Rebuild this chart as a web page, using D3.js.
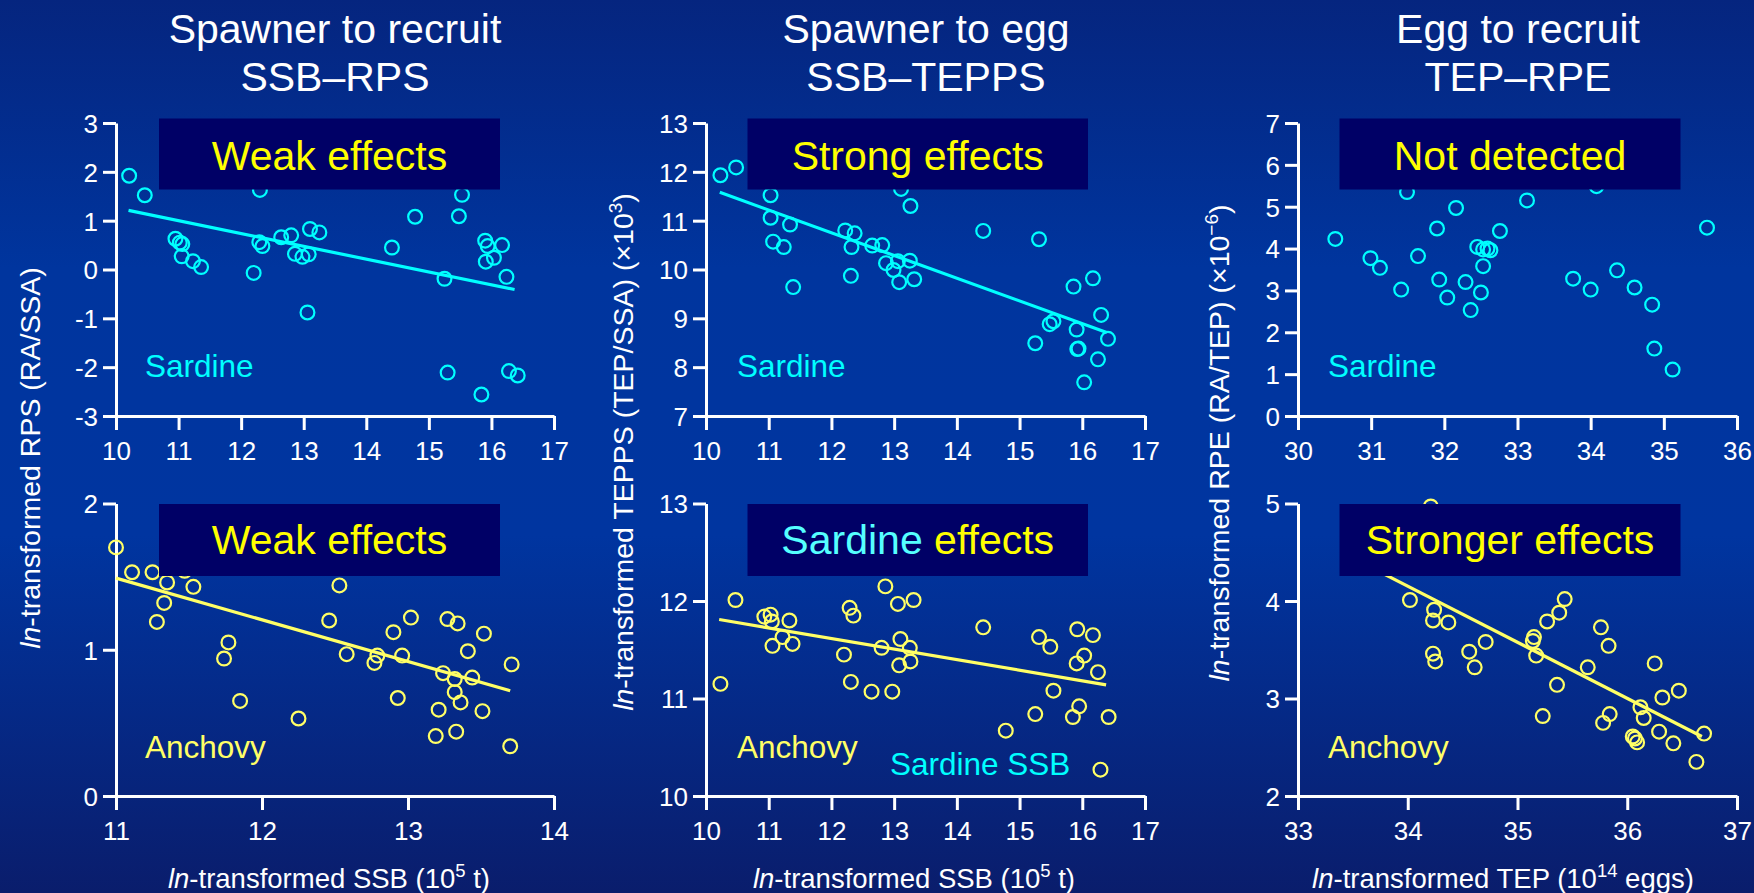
<!DOCTYPE html>
<html><head><meta charset="utf-8">
<script src="https://cdn.jsdelivr.net/npm/d3@7"></script>
<style>html,body{margin:0;padding:0;background:#0033a0;}svg{display:block;}</style>
</head><body>
<svg id="c" width="1754" height="893"></svg>
<script>
// ---------- DATA ----------
const titlesTop = ["Spawner to recruit", "Spawner to egg", "Egg to recruit"];
const titlesBottom = ["SSB\u2013RPS", "SSB\u2013TEPPS", "TEP\u2013RPE"];

const xTicksSSB = [10, 11, 12, 13, 14, 15, 16, 17];
const xTicksSSBAnchovy = [11, 12, 13, 14];
const xTicksTEPSardine = [30, 31, 32, 33, 34, 35, 36];
const xTicksTEPAnchovy = [33, 34, 35, 36, 37];
const yTicksRPSSardine = [-3, -2, -1, 0, 1, 2, 3];
const yTicksRPSAnchovy = [0, 1, 2];
const yTicksTEPPSSardine = [7, 8, 9, 10, 11, 12, 13];
const yTicksTEPPSAnchovy = [10, 11, 12, 13];
const yTicksRPESardine = [0, 1, 2, 3, 4, 5, 6, 7];
const yTicksRPEAnchovy = [2, 3, 4, 5];

const ssbRpsSardine = [[10.21,1.92],[10.46,1.52],[10.95,0.63],[11.02,0.55],[11.06,0.52],[11.05,0.27],[11.23,0.17],[11.36,0.05],
  [12.30,1.63],[12.20,-0.07],[12.29,0.56],[12.34,0.48],[12.64,0.66],[12.80,0.70],[12.86,0.32],[12.98,0.26],[13.08,0.31],
  [13.10,0.83],[13.25,0.76],[13.06,-0.88],[14.41,0.45],[14.78,1.08],[15.53,1.53],[15.48,1.09],[15.25,-0.19],[15.30,-2.11],
  [15.90,0.59],[15.94,0.48],[15.91,0.16],[16.04,0.24],[16.17,0.50],[16.24,-0.15],[15.84,-2.56],[16.28,-2.08],[16.42,-2.17]];
const ssbRpsAnchovy = [[11.00,1.70],[11.11,1.53],[11.25,1.53],[11.47,1.54],[11.35,1.46],[11.33,1.32],[11.53,1.43],[11.28,1.19],
  [11.77,1.05],[11.74,0.94],[11.85,0.65],[12.25,0.53],[12.53,1.44],[12.46,1.20],[12.58,0.97],[12.79,0.96],[12.77,0.91],
  [12.96,0.96],[12.90,1.12],[13.02,1.22],[12.93,0.67],[13.27,1.21],[13.34,1.18],[13.52,1.11],[13.41,0.99],[13.24,0.84],
  [13.32,0.80],[13.44,0.81],[13.32,0.71],[13.36,0.64],[13.21,0.59],[13.51,0.58],[13.19,0.41],[13.33,0.44],[13.71,0.90],[13.70,0.34]];
const ssbTeppsSardine = [[10.23,11.93],[10.48,12.09],[11.03,11.52],[11.03,11.06],[11.34,10.92],[11.07,10.57],[11.24,10.46],[11.39,9.64],
  [12.22,10.80],[12.37,10.74],[12.32,10.46],[12.31,9.87],[12.65,10.49],[12.81,10.50],[12.87,10.13],[12.99,9.99],[13.08,9.74],
  [13.06,10.17],[13.25,10.18],[13.32,9.80],[13.11,11.65],[13.26,11.30],[14.42,10.79],[15.31,10.62],[15.25,8.49],[15.48,8.88],
  [15.54,8.94],[15.86,9.65],[16.17,9.82],[15.91,8.77],[15.94,8.38],[15.92,8.37],[16.30,9.07],[16.41,8.58],[16.25,8.16],[16.03,7.69]];
const ssbTeppsAnchovy = [[10.23,11.15],[10.47,12.01],[10.93,11.84],[11.03,11.86],[11.05,11.79],[11.33,11.80],[11.22,11.63],[11.06,11.54],
  [11.38,11.56],[12.29,11.93],[12.35,11.85],[12.20,11.45],[12.31,11.17],[12.64,11.07],[12.86,12.15],[13.06,11.97],[13.31,12.01],
  [12.80,11.52],[13.10,11.61],[13.25,11.52],[13.26,11.38],[13.08,11.34],[12.97,11.07],[14.42,11.73],[14.78,10.67],[15.31,11.63],
  [15.49,11.53],[15.54,11.08],[15.25,10.84],[15.92,11.71],[16.17,11.65],[16.03,11.44],[15.91,11.36],[16.25,11.27],[15.95,10.92],
  [15.85,10.81],[16.42,10.81],[16.29,10.27]];
const tepRpeSardine = [[30.51,4.23],[30.99,3.77],[31.12,3.54],[31.41,3.02],[31.49,5.35],[31.64,3.82],[31.90,4.48],[31.93,3.26],
  [32.04,2.83],[32.16,4.97],[32.29,3.20],[32.36,2.53],[32.45,4.04],[32.50,2.95],[32.53,3.58],[32.53,3.98],[32.59,4.00],[32.63,3.96],
  [32.76,4.42],[33.13,5.15],[34.08,5.49],[33.76,3.28],[34.00,3.02],[34.36,3.48],[34.60,3.07],[34.84,2.66],[34.87,1.61],[35.12,1.11],[35.59,4.50]];
const tepRpeAnchovy = [[34.21,4.97],[34.02,4.01],[34.24,3.91],[34.23,3.80],[34.37,3.78],[34.23,3.46],[34.25,3.38],[34.56,3.48],
  [34.61,3.32],[34.71,3.58],[35.15,3.63],[35.14,3.59],[35.17,3.44],[35.27,3.79],[35.38,3.88],[35.43,4.02],[35.23,2.82],[35.36,3.14],
  [35.64,3.32],[35.76,3.73],[35.83,3.54],[35.84,2.84],[35.78,2.75],[36.05,2.61],[36.07,2.59],[36.09,2.55],[36.12,2.91],[36.15,2.80],
  [36.25,3.36],[36.32,3.01],[36.29,2.66],[36.47,3.08],[36.42,2.54],[36.63,2.35],[36.70,2.64]];

const fitSsbRpsSardine = [[10.20,1.21],[16.37,-0.41]];
const fitSsbRpsAnchovy = [[11.00,1.49],[13.70,0.72]];
const fitSsbTeppsSardine = [[10.22,11.58],[16.39,8.71]];
const fitSsbTeppsAnchovy = [[10.21,11.81],[16.38,11.14]];
const fitTepRpeAnchovy = [[33.50,4.44],[36.68,2.61]];

const bannerTop = ["Weak effects", "Strong effects", "Not detected"];
const bannerBottom = ["Weak effects", "Sardine effects", "Stronger effects"];

// ---------- STYLE / LAYOUT ----------
const CYAN = "#00ffff", CYAN_LT = "#55ffff", YEL = "#ffff00", YEL_PALE = "#ffff66";
const FONT = "'Liberation Sans', Arial, sans-serif";
const cols = [{x0:116, x1:554, tc:335, sp:145, xl:329},
              {x0:706, x1:1145, tc:926, sp:737, xl:914},
              {x0:1298, x1:1737, tc:1518, sp:1328, xl:1503}];
const rows = [{y0:123, y1:416, by0:118.5, by1:189.5, bt:170, lab:377},
              {y0:503.5, y1:796, by0:504, by1:576, bt:554, lab:758}];
const bannerX = [[159,500],[747.5,1088],[1339.5,1680.5]];

const svg = d3.select("#c");
const defs = svg.append("defs");
const grad = defs.append("linearGradient").attr("id","bg").attr("x1",0).attr("y1",0).attr("x2",0).attr("y2",1);
[[0,"#05257f"],[0.3,"#00359e"],[0.6,"#0035a0"],[1,"#0a1d6c"]].forEach(([o,c]) =>
  grad.append("stop").attr("offset",o).attr("stop-color",c));
svg.append("rect").attr("width",1754).attr("height",893).attr("fill","url(#bg)");

cols.forEach((c,i) => {
  svg.append("text").attr("x",c.tc).attr("y",43).attr("text-anchor","middle")
    .attr("fill","#fff").attr("font-family",FONT).attr("font-size",41).text(titlesTop[i]);
  svg.append("text").attr("x",c.tc).attr("y",91).attr("text-anchor","middle")
    .attr("fill","#fff").attr("font-family",FONT).attr("font-size",41).text(titlesBottom[i]);
});

const panels = [
  {c:0,r:0, xt:xTicksSSB, yt:yTicksRPSSardine, pts:ssbRpsSardine, col:CYAN, fit:fitSsbRpsSardine},
  {c:0,r:1, xt:xTicksSSBAnchovy, yt:yTicksRPSAnchovy, pts:ssbRpsAnchovy, col:YEL_PALE, fit:fitSsbRpsAnchovy},
  {c:1,r:0, xt:xTicksSSB, yt:yTicksTEPPSSardine, pts:ssbTeppsSardine, col:CYAN, fit:fitSsbTeppsSardine},
  {c:1,r:1, xt:xTicksSSB, yt:yTicksTEPPSAnchovy, pts:ssbTeppsAnchovy, col:YEL_PALE, fit:fitSsbTeppsAnchovy},
  {c:2,r:0, xt:xTicksTEPSardine, yt:yTicksRPESardine, pts:tepRpeSardine, col:CYAN, fit:null},
  {c:2,r:1, xt:xTicksTEPAnchovy, yt:yTicksRPEAnchovy, pts:tepRpeAnchovy, col:YEL_PALE, fit:fitTepRpeAnchovy},
];

panels.forEach(p => {
  const C = cols[p.c], R = rows[p.r];
  const x = d3.scaleLinear().domain(d3.extent(p.xt)).range([C.x0, C.x1]);
  const y = d3.scaleLinear().domain(d3.extent(p.yt)).range([R.y1, R.y0]);
  const g = svg.append("g");

  const xa = g.append("g").attr("transform",`translate(0,${R.y1})`)
    .call(d3.axisBottom(x).tickValues(p.xt).tickFormat(d=>String(d)).tickSize(14).tickSizeOuter(0));
  const ya = g.append("g").attr("transform",`translate(${C.x0},0)`)
    .call(d3.axisLeft(y).tickValues(p.yt).tickFormat(d=>String(d)).tickSize(13).tickSizeOuter(0).tickPadding(5));
  [xa, ya].forEach(a => {
    a.select(".domain").attr("stroke","#fff").attr("stroke-width",3);
    a.selectAll(".tick line").attr("stroke","#fff").attr("stroke-width",3);
    a.selectAll(".tick text").attr("fill","#fff").attr("font-family",FONT).attr("font-size",26);
  });
  xa.selectAll(".tick text").attr("dy",null).attr("y",44);
  ya.selectAll(".tick text").attr("dy","0.36em");

  if (p.fit) {
    g.append("line").attr("x1",x(p.fit[0][0])).attr("y1",y(p.fit[0][1]))
      .attr("x2",x(p.fit[1][0])).attr("y2",y(p.fit[1][1]))
      .attr("stroke", p.col).attr("stroke-width",3.2);
  }
  g.selectAll("circle").data(p.pts).join("circle")
    .attr("cx",d=>x(d[0])).attr("cy",d=>y(d[1])).attr("r",6.9)
    .attr("fill","none").attr("stroke",p.col).attr("stroke-width",2.2);

  const bx = bannerX[p.c];
  g.append("rect").attr("x",bx[0]).attr("y",R.by0).attr("width",bx[1]-bx[0]).attr("height",R.by1-R.by0).attr("fill","#000066");
  const bt = g.append("text").attr("x",(bx[0]+bx[1])/2).attr("y",R.bt).attr("text-anchor","middle")
    .attr("font-family",FONT).attr("font-size",41).attr("fill",YEL);
  const label = p.r===0 ? bannerTop[p.c] : bannerBottom[p.c];
  if (label === "Sardine effects") {
    bt.append("tspan").attr("fill",CYAN_LT).text("Sardine ");
    bt.append("tspan").attr("fill",YEL).text("effects");
  } else bt.text(label);

  g.append("text").attr("x",C.sp).attr("y",R.lab)
    .attr("font-family",FONT).attr("font-size",31.5).attr("fill", p.col)
    .text(p.r===0 ? "Sardine" : "Anchovy");
});

svg.append("text").attr("x",890).attr("y",775).attr("font-family",FONT).attr("font-size",31.5)
  .attr("fill",CYAN).text("Sardine SSB");

function yLabel(xb, yc, main, sup) {
  const t = svg.append("text").attr("transform",`translate(${xb},${yc}) rotate(-90)`)
    .attr("text-anchor","middle").attr("font-family",FONT).attr("font-size",28.5).attr("fill","#fff");
  t.append("tspan").attr("font-style","italic").text("ln");
  t.append("tspan").text(main);
  if (sup) {
    t.append("tspan").attr("dy",-11).attr("font-size",19).text(sup);
    t.append("tspan").attr("dy",11).text(")");
  }
}
yLabel(40, 458, "-transformed RPS (RA/SSA)", null);
yLabel(633, 452, "-transformed TEPPS (TEP/SSA) (\u00d710", "3");
yLabel(1229, 443, "-transformed RPE (RA/TEP) (\u00d710", "\u22126");

function xLabel(xc, main, sup, tail) {
  const t = svg.append("text").attr("x",xc).attr("y",888).attr("text-anchor","middle")
    .attr("font-family",FONT).attr("font-size",27.5).attr("fill","#fff");
  t.append("tspan").attr("font-style","italic").text("ln");
  t.append("tspan").text(main);
  t.append("tspan").attr("dy",-11).attr("font-size",18.5).text(sup);
  t.append("tspan").attr("dy",11).text(tail);
}
xLabel(cols[0].xl, "-transformed SSB (10", "5", " t)");
xLabel(cols[1].xl, "-transformed SSB (10", "5", " t)");
xLabel(cols[2].xl, "-transformed TEP (10", "14", " eggs)");
</script>
</body></html>
